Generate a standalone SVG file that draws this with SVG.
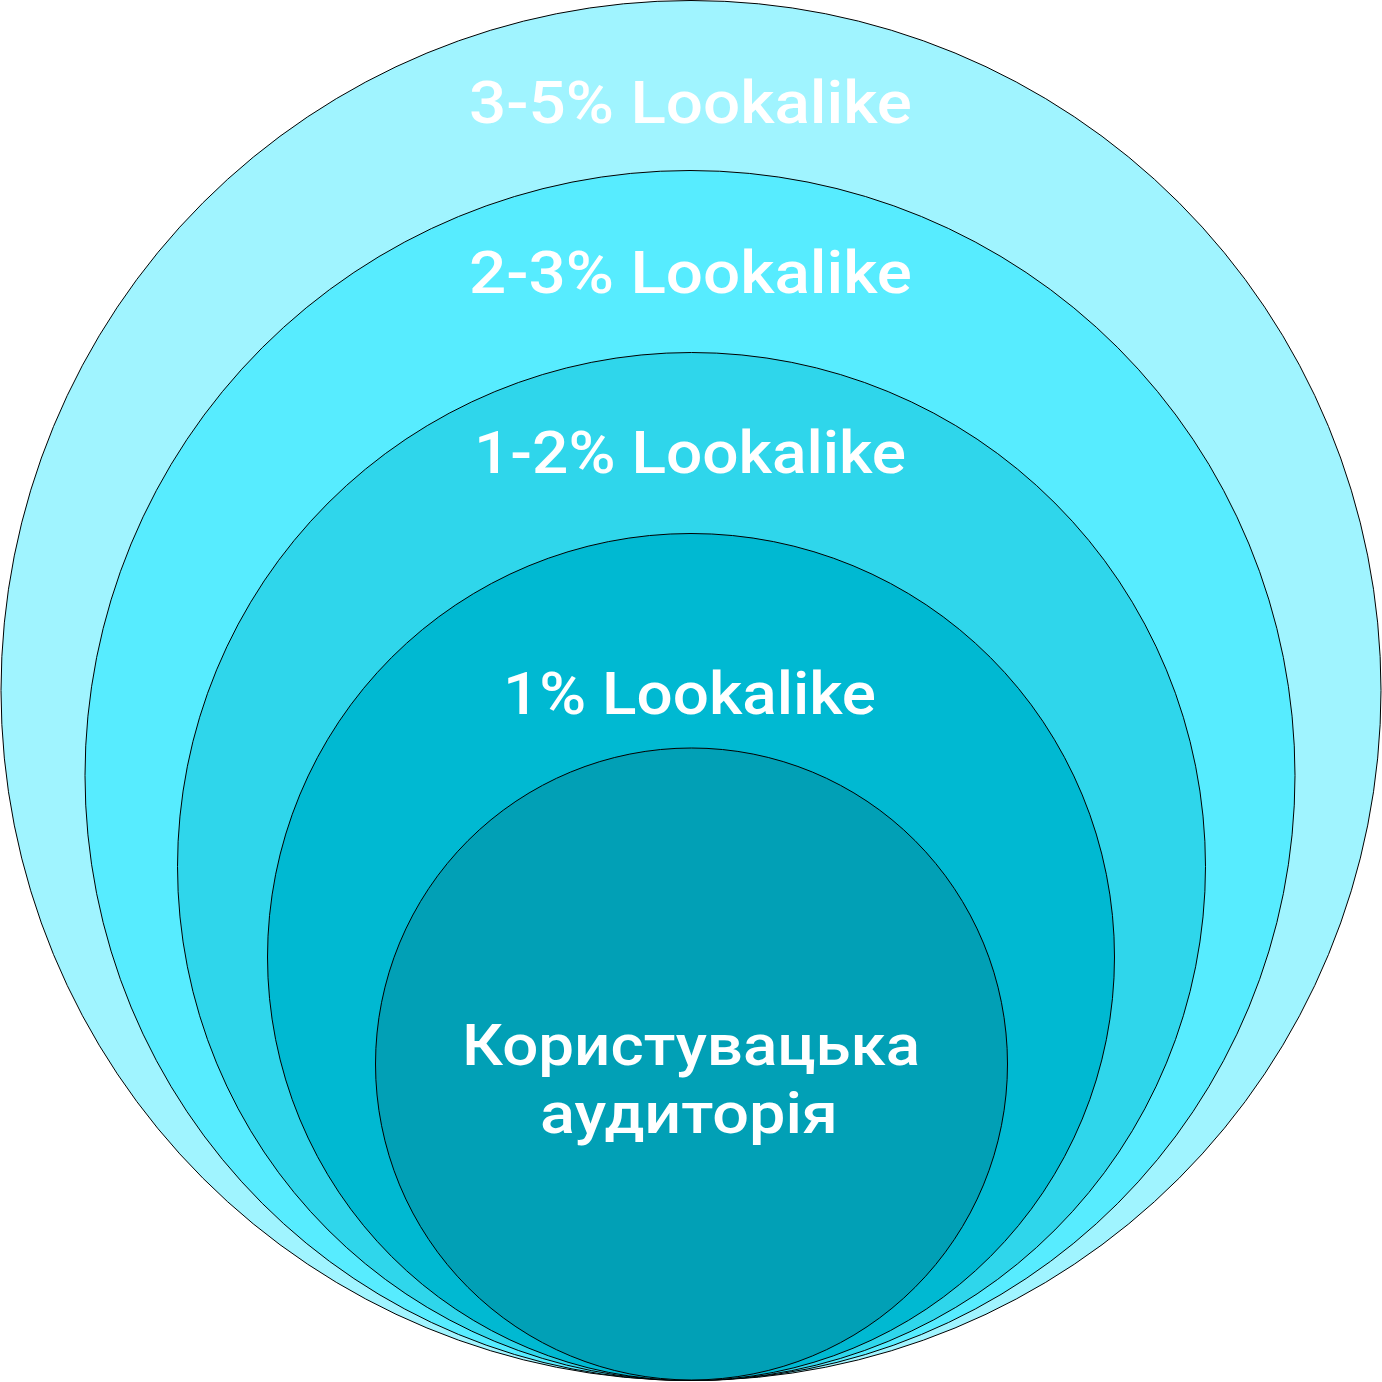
<svg xmlns="http://www.w3.org/2000/svg" width="1382" height="1382" viewBox="0 0 1382 1382">
<style>
.c{stroke:#000;stroke-width:1}
.t{fill:#fff;font-family:Roboto,"Noto Sans","Liberation Sans",sans-serif;font-weight:500;font-size:60px;text-anchor:middle}
.u{font-size:57px}
</style>
<rect width="1382" height="1382" fill="#fff"/>
<g id="n5"><circle class="c" cx="691" cy="690.5" r="690" fill="#A0F4FF"/><text class="t" x="690.5" y="123" textLength="443" lengthAdjust="spacingAndGlyphs">3-5% Lookalike</text></g>
<g id="n4"><circle class="c" cx="690" cy="775.5" r="605" fill="#57ECFF"/><text class="t" x="690.5" y="293" textLength="443" lengthAdjust="spacingAndGlyphs">2-3% Lookalike</text></g>
<g id="n3"><circle class="c" cx="691.5" cy="866.5" r="514" fill="#2FD6EB"/><text class="t" x="690" y="473" textLength="432" lengthAdjust="spacingAndGlyphs">1-2% Lookalike</text></g>
<g id="n2"><circle class="c" cx="691" cy="957" r="423.5" fill="#00B9D2"/><text class="t" x="689.5" y="714" textLength="373" lengthAdjust="spacingAndGlyphs">1% Lookalike</text></g>
<g id="n1"><circle class="c" cx="691.5" cy="1064" r="316" fill="#01A0B6"/><text class="t u" x="691" y="1065" textLength="458" lengthAdjust="spacingAndGlyphs">Користувацька</text><text class="t u" x="689" y="1133" textLength="298" lengthAdjust="spacingAndGlyphs">аудиторія</text></g>
<g id="connectors"/>
</svg>
